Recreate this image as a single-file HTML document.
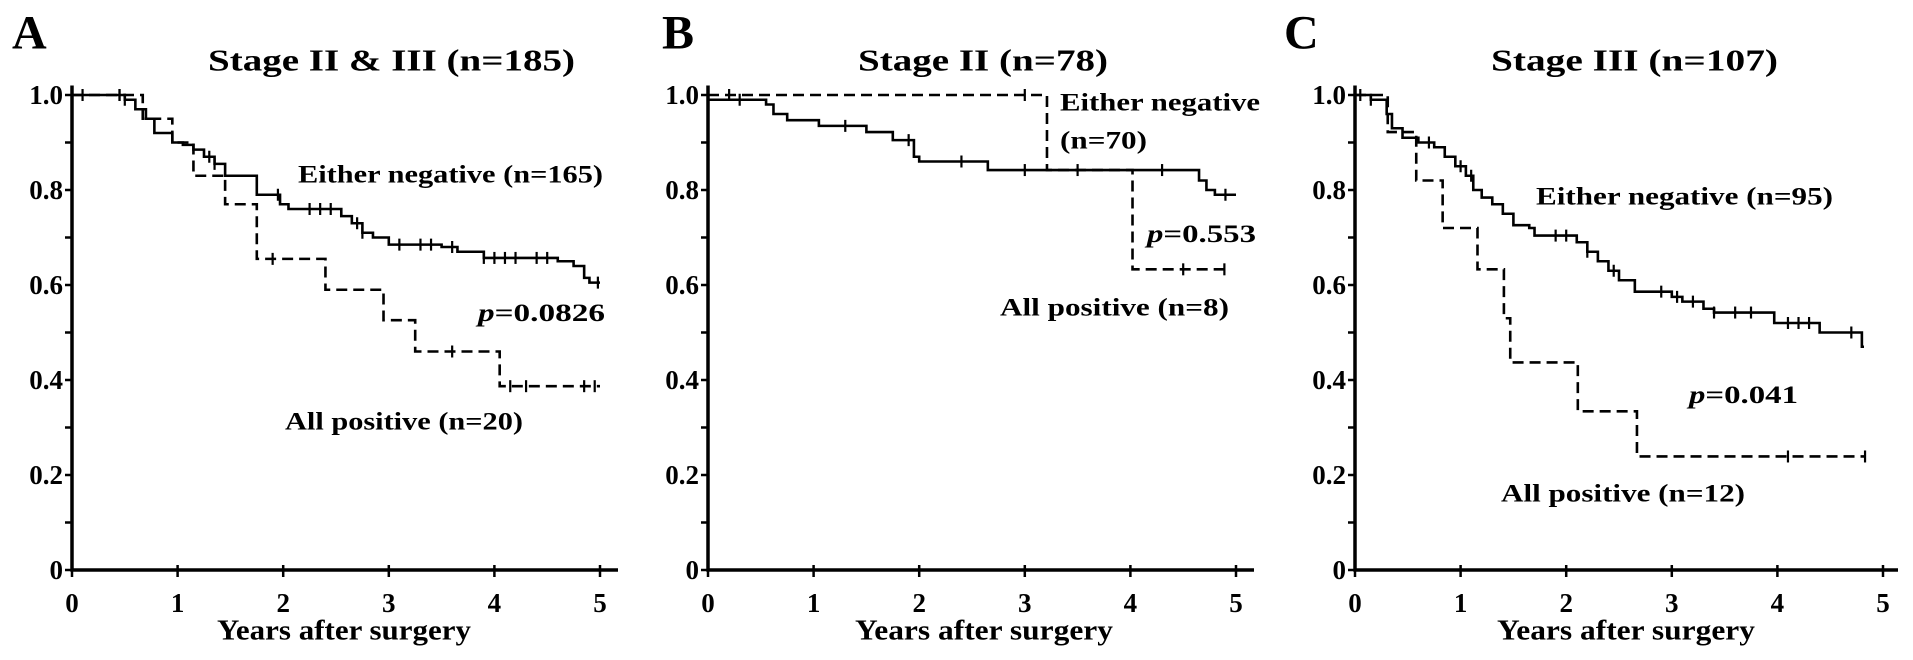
<!DOCTYPE html>
<html><head><meta charset="utf-8"><style>
html,body{margin:0;padding:0;background:#fff;}
svg{display:block;}
text{font-family:"Liberation Serif",serif;font-weight:bold;fill:#000;}
</style></head><body>
<svg id="fig" width="1913" height="660" viewBox="0 0 1913 660"></svg>
<script>
// ---- data ----
const yTickLabels = ["0","0.2","0.4","0.6","0.8","1.0"];
const yTickVals = [0,0.2,0.4,0.6,0.8,1.0];
const xTickLabels = ["0","1","2","3","4","5"];
const xTickVals = [0,1,2,3,4,5];

const aNegT = [0,0.5,0.6,0.7,0.78,0.95,1.05,1.15,1.25,1.35,1.45,1.6,1.75,1.97,2.05,2.55,2.65,2.75,2.85,3.0,3.5,3.65,3.9,4.6,4.75,4.85,4.9];
const aNegS = [1,0.99,0.97,0.95,0.92,0.90,0.895,0.885,0.87,0.855,0.83,0.83,0.79,0.77,0.76,0.745,0.73,0.71,0.70,0.685,0.68,0.67,0.657,0.65,0.64,0.615,0.605];
const aNegEnd = 5.0;
const aNegCens = [0.1,0.45,0.5,1.3,1.35,1.95,2.25,2.35,2.45,2.7,2.75,3.1,3.3,3.4,3.6,3.9,4.0,4.1,4.2,4.4,4.5,4.98];
const aPosT = [0,0.67,0.95,1.15,1.45,1.75,2.4,2.95,3.25,4.05];
const aPosS = [1,0.95,0.9,0.83,0.77,0.655,0.59,0.526,0.46,0.387];
const aPosEnd = 5.0;
const aPosCens = [0.45,1.9,3.6,4.15,4.3,4.85,4.95];

const bNegT = [0,0.55,0.62,0.75,1.05,1.5,1.75,1.95,2.0,2.65,4.65,4.72,4.8];
const bNegS = [0.99,0.98,0.96,0.947,0.935,0.922,0.905,0.87,0.86,0.842,0.82,0.80,0.79];
const bNegEnd = 5.0;
const bNegCens = [0.3,1.3,1.9,2.4,3.0,3.5,4.3,4.9];
const bPosT = [0,3.21,4.02];
const bPosS = [1,0.842,0.633];
const bPosEnd = 4.89;
const bPosCens = [0.2,3.0,4.5,4.89];

const cNegT = [0,0.15,0.3,0.35,0.45,0.6,0.75,0.85,0.95,1.05,1.12,1.2,1.3,1.4,1.5,1.65,1.7,2.1,2.2,2.3,2.4,2.5,2.65,3.0,3.1,3.3,3.4,3.97,4.4,4.8];
const cNegS = [1,0.99,0.96,0.93,0.91,0.90,0.89,0.87,0.85,0.83,0.80,0.784,0.77,0.75,0.726,0.72,0.704,0.69,0.67,0.65,0.63,0.61,0.586,0.575,0.565,0.55,0.542,0.52,0.50,0.47];
const cNegEnd = 4.82;
const cNegCens = [0.05,0.15,0.7,1.0,1.1,1.9,2.0,2.2,2.45,2.9,3.05,3.2,3.4,3.6,3.75,4.1,4.2,4.3,4.7];
const cPosT = [0,0.31,0.58,0.83,1.16,1.41,1.47,2.11,2.67];
const cPosS = [1,0.922,0.82,0.72,0.633,0.53,0.437,0.334,0.239];
const cPosEnd = 4.83;
const cPosCens = [4.1,4.83];

const NS = "http://www.w3.org/2000/svg";
const svg = document.getElementById("fig");
function el(tag, attrs, parent){
  const e = document.createElementNS(NS, tag);
  for (const k in attrs) e.setAttribute(k, attrs[k]);
  (parent||svg).appendChild(e);
  return e;
}
function txt(str, x, y, size, len, anchor, parent){
  const t = el("text", {x:x, y:y, "font-size":size, "text-anchor":anchor||"start", "dominant-baseline":"central"}, parent);
  if (len){ t.setAttribute("textLength", len); t.setAttribute("lengthAdjust","spacingAndGlyphs"); }
  t.textContent = str;
  return t;
}

const Y0 = 570, Y1 = 95, YW = 105.6;
function makePanel(cfg){
  const g = el("g", {});
  
  
  const X = t => cfg.x0 + t*YW;
  const Y = v => Y0 - v*(Y0-Y1);

  // axes
  const ax = el("path", {d:`M${cfg.x0} ${Y(1.02)} V${Y0} H${cfg.xEnd}`, fill:"none", stroke:"#000", "stroke-width":3.5}, g);
  
  
  for (let i=0;i<=10;i++){
    const tk = el("line", {x1:cfg.x0-7, x2:cfg.x0, y1:Y(i/10), y2:Y(i/10), stroke:"#000", "stroke-width":2.5}, g);
    
    
  }
  yTickVals.forEach((v,i)=>{
    const t = txt(yTickLabels[i], cfg.x0-9, Y(v), 27, null, "end", g);
    
    
  });
  xTickVals.forEach((v,i)=>{
    const tk = el("line", {x1:X(v), x2:X(v), y1:Y0-5, y2:Y0+7, stroke:"#000", "stroke-width":2.5}, g);
    
    
    const t = txt(xTickLabels[i], X(v), 603, 27, null, "middle", g);
    
    
  });
  const xt = txt("Years after surgery", cfg.xTitle[0], 631, 28, cfg.xTitle[1]-cfg.xTitle[0], "start", g);
  
  

  // series
  function series(T, S, end, cens, dashed, nm){
    let d = `M${X(T[0])} ${Y(S[0])}`;
    for (let i=1;i<T.length;i++) d += ` H${X(T[i])} V${Y(S[i])}`;
    d += ` H${X(end)}`;
    const p = el("path", {d:d, fill:"none", stroke:"#000", "stroke-width":2.6}, g);
    if (dashed) p.setAttribute("stroke-dasharray","11 6");
    
    
    cens.forEach(c=>{
      let s = S[0];
      for (let i=0;i<T.length;i++) if (T[i] <= c) s = S[i];
      const m = el("line", {x1:X(c), x2:X(c), y1:Y(s)-6, y2:Y(s)+6, stroke:"#000", "stroke-width":2.2}, g);
      
      
    });
  }
  series(cfg.negT, cfg.negS, cfg.negEnd, cfg.negCens, false, "either-negative");
  series(cfg.posT, cfg.posS, cfg.posEnd, cfg.posCens, true, "all-positive");

  // labels
  const L = txt(cfg.letter, cfg.letterX, 33, 48, null, "start", g);
  
  
  const T = txt(cfg.title, cfg.titleX[0], 60, 31, cfg.titleX[1]-cfg.titleX[0], "start", g);
  
  
  cfg.notes.forEach(n=>{
    const t = txt("", n[1], n[3], 25, n[2]-n[1], "start", g);
    if (n[0].startsWith("p=")){
      const it = el("tspan", {"font-style":"italic"}, t); it.textContent = "p";
      const rest = el("tspan", {}, t); rest.textContent = n[0].slice(1);
    } else t.textContent = n[0];
    
    
  });
}

makePanel({name:"panel-a", letter:"A", letterX:12, x0:72, xEnd:618, xTitle:[217,471],
  title:"Stage II & III (n=185)", titleX:[208,575],
  negT:aNegT, negS:aNegS, negEnd:aNegEnd, negCens:aNegCens,
  posT:aPosT, posS:aPosS, posEnd:aPosEnd, posCens:aPosCens,
  notes:[["Either negative (n=165)",298,603,175,"either-negative-label"],
         ["p=0.0826",478,605,313,"p-value"],
         ["All positive (n=20)",285,523,422,"all-positive-label"]]});
makePanel({name:"panel-b", letter:"B", letterX:662, x0:708, xEnd:1254, xTitle:[855,1113],
  title:"Stage II (n=78)", titleX:[858,1108],
  negT:bNegT, negS:bNegS, negEnd:bNegEnd, negCens:bNegCens,
  posT:bPosT, posS:bPosS, posEnd:bPosEnd, posCens:bPosCens,
  notes:[["Either negative",1060,1260,103,"either-negative-label"],
         ["(n=70)",1060,1147,141,"either-negative-n"],
         ["p=0.553",1147,1256,234,"p-value"],
         ["All positive (n=8)",1000,1229,308,"all-positive-label"]]});
makePanel({name:"panel-c", letter:"C", letterX:1284, x0:1355, xEnd:1898, xTitle:[1497,1755],
  title:"Stage III (n=107)", titleX:[1491,1778],
  negT:cNegT, negS:cNegS, negEnd:cNegEnd, negCens:cNegCens,
  posT:cPosT, posS:cPosS, posEnd:cPosEnd, posCens:cPosCens,
  notes:[["Either negative (n=95)",1536,1833,197,"either-negative-label"],
         ["p=0.041",1689,1798,395,"p-value"],
         ["All positive (n=12)",1501,1745,494,"all-positive-label"]]});
</script>
</body></html>
